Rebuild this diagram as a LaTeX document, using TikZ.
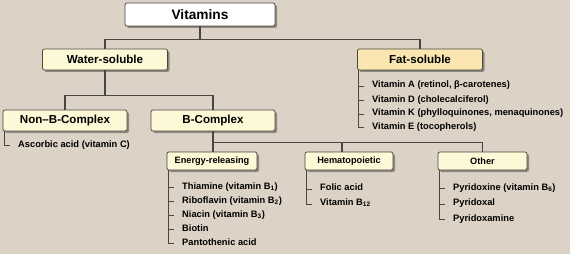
\documentclass[tikz,border=0pt]{standalone}
\usepackage{fontspec}
\setmainfont{Liberation Sans}
\usepackage{xcolor}
\definecolor{bgBeige}{HTML}{DCD2C6}
\definecolor{lineGray}{HTML}{4A4540}
\definecolor{paleYellow}{HTML}{FDF8D6}
\definecolor{paleOrange}{HTML}{FBE6B2}
\definecolor{darkText}{HTML}{1E1B18}
\usetikzlibrary{shadows, positioning, calc}

\begin{document}
\begin{tikzpicture}[
    x=1pt, y=-1pt,
    font=\bfseries\color{darkText},
    boxNode/.style={draw=lineGray, line width=0.7pt, rounded corners=2pt, inner sep=0pt,
        drop shadow={shadow xshift=2pt, shadow yshift=-2pt, opacity=0.35, fill=black}},
    topNode/.style={boxNode, fill=white, minimum width=150pt, minimum height=23pt, font=\bfseries\fontsize{13.7}{15}\selectfont},
    groupNode/.style={boxNode, fill=paleYellow, minimum width=125pt, minimum height=21pt, font=\bfseries\fontsize{11.6}{13}\selectfont},
    subNode/.style={boxNode, fill=paleYellow, minimum height=18pt, font=\bfseries\fontsize{9.2}{11}\selectfont},
    itemNode/.style={anchor=base west, inner sep=0pt, font=\bfseries\fontsize{9.3}{11}\selectfont},
    linkLine/.style={draw=lineGray, line width=1.1pt},
    listLine/.style={draw=lineGray, line width=0.9pt}
]
\useasboundingbox[fill=bgBeige] (0,0) rectangle (570,254);

\node[topNode] (vit) at (200,14.5) {Vitamins};
\node[groupNode] (water) at (105,59.5) {Water-soluble};
\node[groupNode, fill=paleOrange] (fat) at (420,59.5) {Fat-soluble};
\node[groupNode, minimum width=124pt] (nonb) at (65,120.5) {Non–B-Complex};
\node[groupNode, minimum width=124pt] (bcomp) at (213,120.5) {B-Complex};
\node[subNode, minimum width=90pt] (energy) at (212,161) {Energy-releasing};
\node[subNode, minimum width=88pt] (hema) at (349,161) {Hematopoietic};
\node[subNode, minimum width=89pt] (other) at (482.5,161) {Other};

% Tree links
\draw[linkLine] (vit.south) -- ++(0,13) -| (water.north);
\draw[linkLine] (vit.south) -- ++(0,13) -| (fat.north);
\draw[linkLine] (water.south) -- ++(0,25) -| (nonb.north);
\draw[linkLine] (water.south) -- ++(0,25) -| (bcomp.north);
\draw[linkLine] (bcomp.south) -- (bcomp.south |- energy.north);
\draw[linkLine] (bcomp.south) -- ++(0,11) -| ([xshift=-7pt]hema.north);
\draw[linkLine] (bcomp.south) -- ++(0,11) -| (other.north);

% Lists
\node[itemNode] (f1) at (372,88) {Vitamin A (retinol, β-carotenes)};
\node[itemNode] (f2) at (372,102) {Vitamin D (cholecalciferol)};
\node[itemNode] (f3) at (372,115.5) {Vitamin K (phylloquinones, menaquinones)};
\node[itemNode] (f4) at (372,129) {Vitamin E (tocopherols)};

\node[itemNode] (n1) at (18,147) {Ascorbic acid (vitamin C)};

\node[itemNode] (e1) at (182,189) {Thiamine (vitamin B\textsubscript{1})};
\node[itemNode] (e2) at (182,203) {Riboflavin (vitamin B\textsubscript{2})};
\node[itemNode] (e3) at (182,217) {Niacin (vitamin B\textsubscript{3})};
\node[itemNode] (e4) at (182,231) {Biotin};
\node[itemNode] (e5) at (182,245) {Pantothenic acid};

\node[itemNode] (h1) at (320,190.5) {Folic acid};
\node[itemNode] (h2) at (320,205.5) {Vitamin B\textsubscript{12}};

\node[itemNode] (o1) at (453,190) {Pyridoxine (vitamin B\textsubscript{6})};
\node[itemNode] (o2) at (453,205.5) {Pyridoxal};
\node[itemNode] (o3) at (453,221) {Pyridoxamine};

\draw[listLine] ([xshift=1.5pt]fat.south west) |- ([xshift=-8.5pt, yshift=1.5pt]f4.base west);
\draw[listLine] ([xshift=1.5pt]nonb.south west) |- ([xshift=-8.5pt, yshift=1.5pt]n1.base west);
\draw[listLine] ([xshift=1.5pt]energy.south west) |- ([xshift=-8.5pt, yshift=1.5pt]e5.base west);
\draw[listLine] ([xshift=1.5pt]hema.south west) |- ([xshift=-8.5pt, yshift=1.5pt]h2.base west);
\draw[listLine] ([xshift=1.5pt]other.south west) |- ([xshift=-8.5pt, yshift=1.5pt]o3.base west);
\foreach \n in {f1,f2,f3,e1,e2,e3,e4,h1,o1,o2}
    \draw[listLine] ([xshift=-13.5pt, yshift=1.5pt]\n.base west) -- ([xshift=-8.5pt, yshift=1.5pt]\n.base west);

\end{tikzpicture}
\end{document}
